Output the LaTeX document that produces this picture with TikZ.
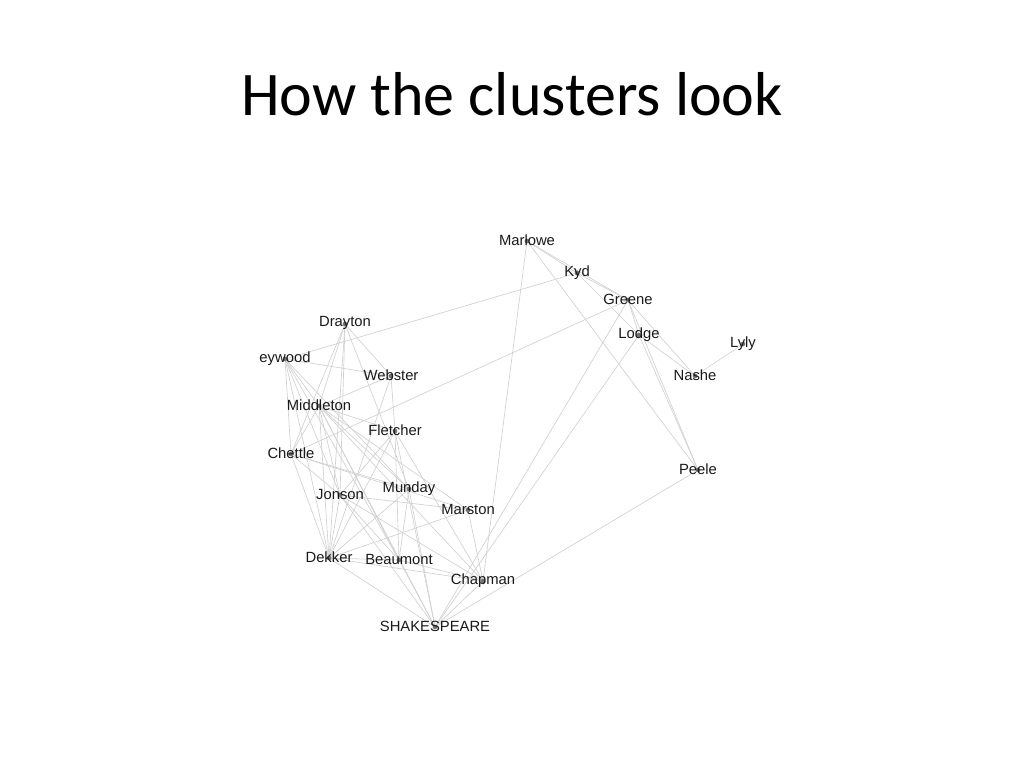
\documentclass[tikz,border=0pt]{standalone}
\usepackage{fontspec}
\setmainfont{Liberation Sans}
\newfontfamily\titlefont{Carlito}
\usetikzlibrary{backgrounds}

\begin{document}
\begin{tikzpicture}[
    x=0.75pt, y=-0.75pt,
    author/.style={circle, fill=black!55, inner sep=0pt, minimum size=3.5pt},
    lbl/.style={font=\fontsize{11.1}{13}\selectfont, text=black!90, inner sep=0pt, anchor=base, yshift=0.5pt},
    edge/.style={draw=black!18, line width=0.5pt}
]
\useasboundingbox (0,0) rectangle (1024,768);

\node[anchor=base, font=\titlefont\fontsize{46.5}{56}\selectfont] (title) at (512,115) {How the clusters look};

% right cluster
\node[author, label={[lbl]center:Marlowe}] (marlowe) at (527,241) {};
\node[author, label={[lbl]center:Kyd}] (kyd) at (577,273) {};
\node[author, label={[lbl]center:Greene}] (greene) at (628,300) {};
\node[author, label={[lbl]center:Lodge}] (lodge) at (639,335) {};
\node[author, label={[lbl]center:Lyly}] (lyly) at (743,344) {};
\node[author, label={[lbl]center:Nashe}] (nashe) at (695,376) {};
\node[author, label={[lbl]center:Peele}] (peele) at (698,470) {};

% left cluster
\node[author, label={[lbl]center:Drayton}] (drayton) at (345,324) {};
\node[author, label={[lbl]center:eywood}] (heywood) at (285,359) {};
\node[author, label={[lbl]center:Webster}] (webster) at (391,376) {};
\node[author, label={[lbl]center:Middleton}] (middleton) at (319,406) {};
\node[author, label={[lbl]center:Fletcher}] (fletcher) at (395,431) {};
\node[author, label={[lbl]center:Chettle}] (chettle) at (291,454) {};
\node[author, label={[lbl]center:Jonson}] (jonson) at (340,495) {};
\node[author, label={[lbl]center:Munday}] (munday) at (409,489) {};
\node[author, label={[lbl]center:Marston}] (marston) at (468,510) {};
\node[author, label={[lbl]center:Dekker}] (dekker) at (329,558) {};
\node[author, label={[lbl]center:Beaumont}] (beaumont) at (399,560) {};
\node[author, label={[lbl]center:Chapman}] (chapman) at (483,581) {};
\node[author, label={[lbl]center:SHAKESPEARE}] (shakespeare) at (435,627) {};

\begin{scope}[on background layer]
\foreach \a/\b in {marlowe/kyd, marlowe/greene, marlowe/peele, marlowe/chapman,
    kyd/greene, kyd/lodge, kyd/heywood, greene/lodge, greene/nashe, greene/peele,
    greene/chettle, greene/shakespeare, lodge/nashe, lodge/peele, lodge/shakespeare,
    nashe/lyly, peele/shakespeare}
  \draw[edge] (\a.center) -- (\b.center);
\foreach \a/\b in {drayton/webster, drayton/middleton, drayton/chettle, drayton/dekker,
    drayton/jonson, drayton/munday, heywood/webster, heywood/middleton, heywood/chettle,
    heywood/dekker, heywood/jonson, heywood/munday, heywood/beaumont,
    webster/middleton, webster/dekker, webster/fletcher,
    middleton/chettle, middleton/dekker, middleton/jonson, middleton/munday,
    middleton/marston, middleton/beaumont, middleton/shakespeare, middleton/chapman,
    middleton/fletcher, fletcher/beaumont, fletcher/shakespeare, fletcher/chapman,
    fletcher/dekker, fletcher/jonson, chettle/dekker, chettle/jonson, chettle/munday,
    chettle/marston, jonson/dekker, jonson/marston, jonson/chapman, jonson/shakespeare,
    jonson/beaumont, munday/dekker, munday/shakespeare, munday/beaumont,
    marston/dekker, marston/chapman, dekker/beaumont, dekker/chapman,
    dekker/shakespeare, beaumont/shakespeare, beaumont/chapman, chapman/shakespeare}
  \draw[edge] (\a.center) -- (\b.center);
\end{scope}
\end{tikzpicture}
\end{document}
